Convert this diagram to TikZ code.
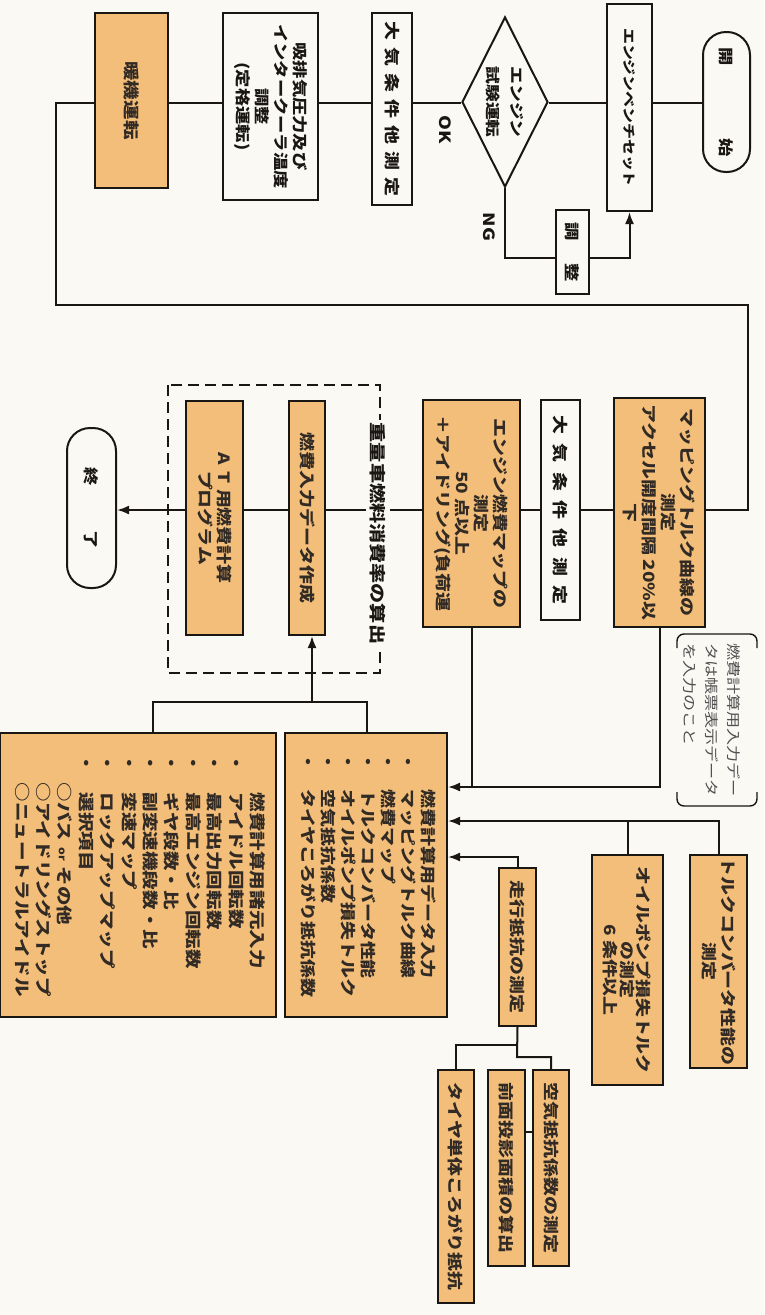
\documentclass[tikz,border=0pt]{standalone}
\usepackage{fontspec}
\usetikzlibrary{shapes.geometric,arrows.meta,calc}
\newfontfamily\jp[FakeStretch=1.22]{Noto Sans CJK JP}
\definecolor{bg}{RGB}{250,249,244}
\definecolor{org}{RGB}{242,190,122}
\definecolor{ink}{RGB}{25,22,20}
\definecolor{otext}{RGB}{50,42,36}
\definecolor{notetext}{RGB}{80,80,80}
\newcommand{\jgap}{\hspace{7pt}}
\newcommand{\jgapb}{\hspace{9.5pt}}
\begin{document}
\begin{tikzpicture}[x=1pt,y=-1pt,
 boxbase/.style={rotate=-90, inner sep=0pt, draw=ink, line width=2pt, align=center, text=ink,
   font=\jp\bfseries\fontsize{15.5}{19}\selectfont},
 wbox/.style={boxbase, fill=bg},
 obox/.style={boxbase, fill=org, text=otext},
 term/.style={boxbase, fill=bg, rounded corners=23pt},
 conn/.style={line width=2pt, draw=ink},
 arr/.style={conn, -{Latex[length=12pt,width=9pt]}},
 lbl/.style={rotate=-90, inner sep=1pt, text=ink, font=\jp\bfseries\fontsize{15.5}{17}\selectfont},
 dbox/.style={line width=2.2pt, draw=ink, dash pattern=on 11pt off 6pt},
]
\useasboundingbox (0,0) rectangle (764,1315);
\fill[bg] (0,0) rectangle (764,1315);

% ---------- row 1 ----------
\node[term, minimum width=140pt, minimum height=47pt, font=\jp\bfseries\fontsize{15}{18}\selectfont] (start) at (726.5,102) {開\hspace{72pt}始};
\node[wbox, minimum width=207pt, minimum height=45pt, font=\jp\bfseries\fontsize{13}{16}\selectfont] (bench) at (629.5,107.5) {エンジンベンチセット};
\node[diamond, aspect=2, rotate=-90, inner sep=0pt, draw=ink, line width=2pt, fill=bg, align=center, text=ink,
  minimum width=170pt, minimum height=86pt, font=\jp\bfseries\fontsize{14.5}{19}\selectfont] (dia) at (505,102) {エンジン\\[5pt]試験運転};
\node[lbl] (ok) at (445,130) {OK};
\node[lbl] (ng) at (489,227) {NG};
\node[wbox, minimum width=192pt, minimum height=40pt] (atm1) at (392,109) {大\jgap 気\jgap 条\jgap 件\jgap 他\jgap 測\jgap 定};
\node[wbox, minimum width=187pt, minimum height=95pt, font=\jp\bfseries\fontsize{15}{19}\selectfont] (press) at (270.5,106.5) {吸排気圧力及び\\インタークーラ温度\\調整\\(定格運転)};
\node[obox, minimum width=175pt, minimum height=73pt, font=\jp\bfseries\fontsize{16}{19}\selectfont] (warm) at (131.5,100.5) {暖機運転};

% ---------- row 2 ----------
\node[obox, minimum width=229pt, minimum height=91pt] (map) at (659.5,512.5) {マッピングトルク曲線の\\測定\\アクセル開度間隔 20\%以\\下};
\node[wbox, minimum width=220pt, minimum height=39pt] (atm2) at (560.5,510) {大\jgapb 気\jgapb 条\jgapb 件\jgapb 他\jgapb 測\jgapb 定};
\node[obox, minimum width=227pt, minimum height=97pt] (fmap) at (471.5,513.5) {エンジン燃費マップの\\測定\\50 点以上\\＋アイドリング(負荷運};
\node[obox, minimum width=234pt, minimum height=36pt] (finput) at (307,518) {燃費入力データ作成};
\node[obox, minimum width=234pt, minimum height=57pt] (atprog) at (214.5,518) {A\hspace{7pt}T\hspace{5pt}用燃費計算\\プログラム};
\node[term, minimum width=160pt, minimum height=49pt, font=\jp\bfseries\fontsize{15}{18}\selectfont] (fin) at (91.5,508) {終\hspace{45pt}了};

% ---------- lower ----------
\node[obox, minimum width=284pt, minimum height=276pt, font=\jp\bfseries\fontsize{16}{21.4}\selectfont] (lbox) at (138,875) {%
\begin{tabular}{@{}c@{\hspace{20pt}}l@{}}
 & 燃費計算用諸元入力\\
・& アイドル回転数\\
・& 最高出力回転数\\
・& 最高エンジン回転数\\
・& ギヤ段数・比\\
・& 副変速機段数・比\\
・& 変速マップ\\
・& ロックアップマップ\\
・& 選択項目\\
 & \hspace*{-10pt}○バス\hspace{6pt}{\fontsize{10}{12}\selectfont or}\hspace{6pt}その他\\
 & \hspace*{-10pt}○アイドリングストップ\\
 & \hspace*{-10pt}○ニュートラルアイドル
\end{tabular}};
\node[obox, minimum width=284pt, minimum height=162pt, font=\jp\bfseries\fontsize{15.5}{20}\selectfont] (rbox) at (366,875) {%
\begin{tabular}{@{}c@{\hspace{18pt}}l@{}}
 & 燃費計算用データ入力\\
・& マッピングトルク曲線\\
・& 燃費マップ\\
・& トルクコンバータ性能\\
・& オイルポンプ損失トルク\\
・& 空気抵抗係数\\
・& タイヤころがり抵抗係数
\end{tabular}};
\node[rotate=-90, inner sep=0pt, align=left, text=notetext, font=\jp\fontsize{14}{22}\selectfont] (note) at (712,720) {燃費計算用入力デー\\タは帳票表示データ\\を入力のこと};
\node[obox, minimum width=213pt, minimum height=57pt] (tc) at (718.5,961.5) {トルクコンバータ性能の\\測定};
\node[obox, minimum width=230pt, minimum height=71pt, font=\jp\bfseries\fontsize{15.5}{16.5}\selectfont] (op) at (627.5,970) {オイルポンプ損失トルク\\の測定\\6 条件以上};
\node[obox, minimum width=158pt, minimum height=37pt] (rr) at (517.5,947) {走行抵抗の測定};
\node[obox, minimum width=196pt, minimum height=36pt] (air) at (551,1168) {空気抵抗係数の測定};
\node[obox, minimum width=196pt, minimum height=37pt] (front) at (506.5,1168) {前面投影面積の算出};
\node[obox, minimum width=233pt, minimum height=36pt] (tire) at (456,1186.5) {タイヤ単体ころがり抵抗};

% ---------- coordinates ----------
\coordinate (r1) at (0,103);
\coordinate (r2) at (0,510);
\coordinate (l1) at (56,305);
\coordinate (l2) at (748,305);
\coordinate (nga) at (0,258);
\coordinate (a1) at (0,787);
\coordinate (a2) at (0,821);
\coordinate (a3) at (0,857);
\coordinate (bl) at (153,702);
\coordinate (br) at (367,702);
\coordinate (jn) at (312,702);
\coordinate (j1) at (517,1045);
\coordinate (j2) at (517,1057);
\coordinate (lk) at (0,1132);

% ---------- connectors ----------
\draw[conn] (start.south |- r1) -- (bench.north |- r1);
\draw[conn] (bench.south |- r1) -- (dia.north |- r1);
\draw[conn] (dia.south |- r1) -- (atm1.north |- r1);
\draw[conn] (atm1.south |- r1) -- (press.north |- r1);
\draw[conn] (press.south |- r1) -- (warm.north |- r1);
\draw[conn] (warm.south |- r1) -| (l1) -- (l2) |- (map.north |- r2);
\draw[arr] (dia.east) -- (dia.east |- nga) -| (bench.east);

\draw[conn] (map.south |- r2) -- (atm2.north |- r2);
\draw[conn] (atm2.south |- r2) -- (fmap.north |- r2);
\draw[conn] (fmap.south |- r2) -- (finput.north |- r2);
\draw[conn] (finput.south |- r2) -- (atprog.north |- r2);
\draw[arr] (atprog.south |- r2) -- (fin.north |- r2);

\draw[arr] (map.east) |- (rbox.north |- a1);
\draw[conn] (fmap.east) -- (fmap.east |- a1);
\draw[arr] (tc.west) |- (rbox.north |- a2);
\draw[conn] (op.west) -- (op.west |- a2);
\draw[arr] (rr.west) |- (rbox.north |- a3);

\draw[conn] (lbox.west -| bl) -- (bl) -- (br) -- (rbox.west -| br);
\draw[arr] (jn) -- (jn |- finput.east);

\draw[conn] (rr.east) -- (j2) -| (air.west);
\draw[conn] (j1) -| (tire.west);
\draw[conn] (front.north |- lk) -- (air.south |- lk);

% note brackets
\draw[line width=1.4pt, draw=ink, rounded corners=7pt]
  ($(note.center)+(-35,-72)$) -- ($(note.center)+(-35,-86)$) -- ($(note.center)+(45,-86)$) -- ($(note.center)+(45,-72)$);
\draw[line width=1.4pt, draw=ink, rounded corners=7pt]
  ($(note.center)+(-35,72)$) -- ($(note.center)+(-35,86)$) -- ($(note.center)+(45,86)$) -- ($(note.center)+(45,72)$);

% adjust box on NG line
\node[wbox, minimum width=84pt, minimum height=33pt, font=\jp\bfseries\fontsize{15}{18}\selectfont] (adj) at (572.5,252) {調\hspace{22pt}整};

% dashed group
\draw[dbox] (168,385) rectangle (380,673);
\node[rotate=-90, fill=bg, inner xsep=3pt, inner ysep=4pt, text=ink,
  font=\jp\bfseries\fontsize{16.5}{18}\selectfont] (heavy) at (378,533.5) {重量車燃料消費率の算出};
\end{tikzpicture}
\end{document}
